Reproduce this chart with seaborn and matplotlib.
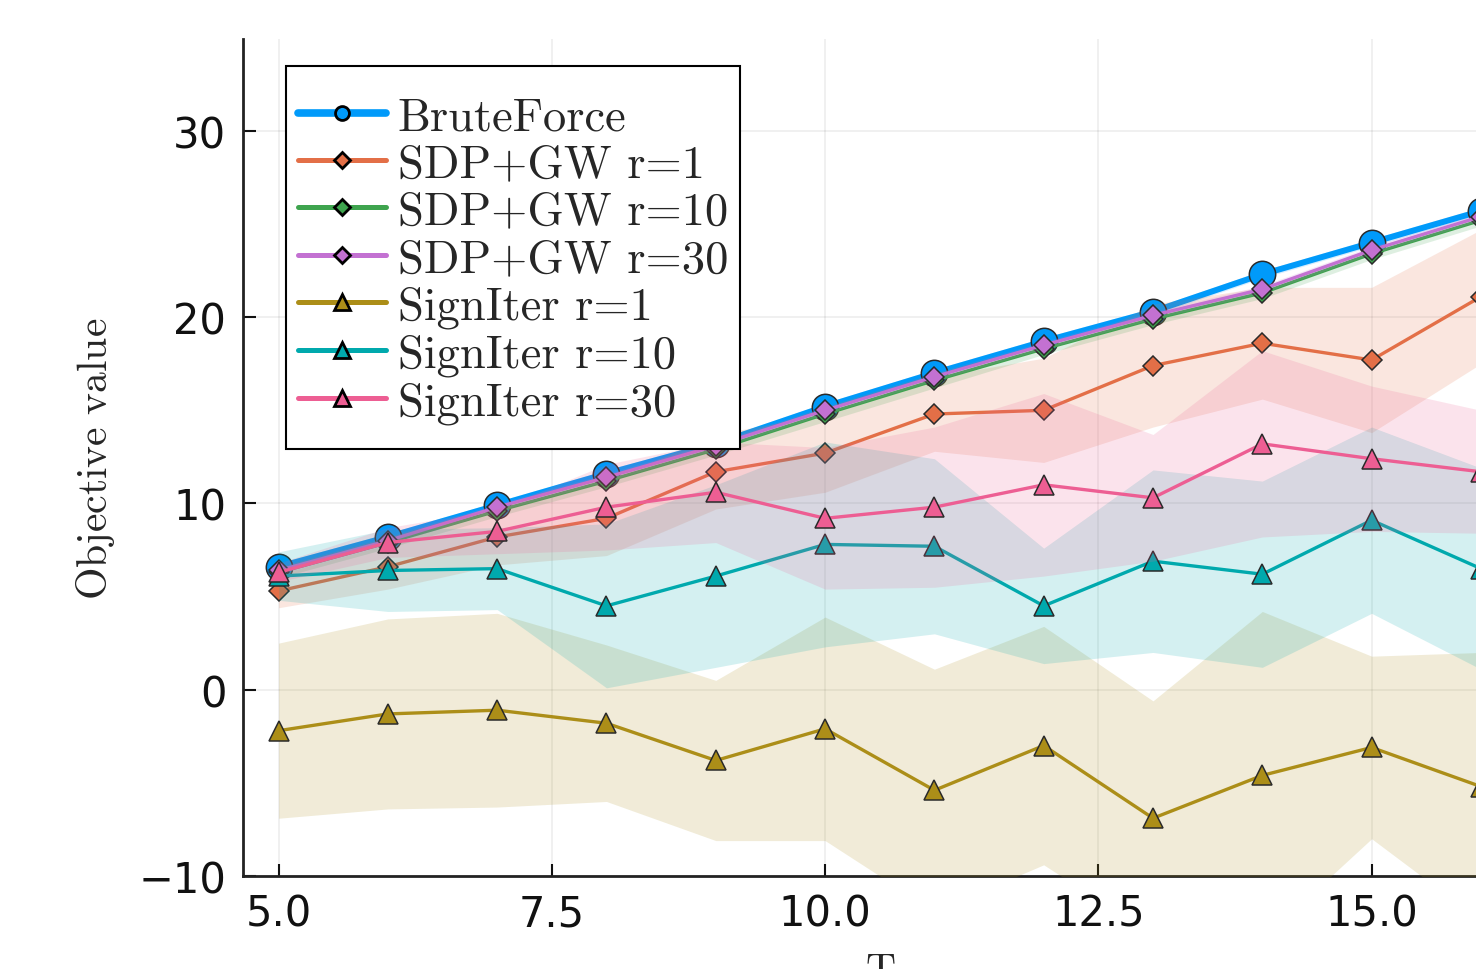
import numpy as np
import seaborn as sns
import matplotlib.pyplot as plt
from matplotlib.lines import Line2D
from matplotlib.patches import Rectangle

# data (mean and ribbon half-width)
T = [5, 6, 7, 8, 9, 10, 11, 12, 13, 14, 15, 16]

brute_force = [6.6, 8.2, 9.9, 11.6, 13.2, 15.2, 17.0, 18.7, 20.3, 22.3, 24.0, 25.7]
brute_force_std = [0.2, 0.2, 0.2, 0.2, 0.2, 0.2, 0.2, 0.2, 0.2, 0.2, 0.2, 0.2]

sdp_r1 = [5.3, 6.6, 8.2, 9.2, 11.7, 12.7, 14.8, 15.0, 17.4, 18.6, 17.7, 21.1]
sdp_r1_std = [0.9, 1.2, 1.5, 2.0, 2.0, 2.1, 2.0, 2.8, 3.3, 3.0, 3.9, 3.6]

sdp_r10 = [6.3, 7.9, 9.6, 11.2, 12.9, 14.8, 16.6, 18.3, 19.9, 21.3, 23.4, 25.2]
sdp_r10_std = [0.3, 0.3, 0.3, 0.3, 0.3, 0.4, 0.4, 0.3, 0.3, 0.3, 0.3, 0.3]

sdp_r30 = [6.4, 8.0, 9.8, 11.4, 13.1, 15.0, 16.8, 18.5, 20.1, 21.5, 23.6, 25.4]
sdp_r30_std = [0.2, 0.2, 0.2, 0.2, 0.2, 0.2, 0.2, 0.2, 0.2, 0.2, 0.2, 0.2]

sign_r1 = [-2.2, -1.3, -1.1, -1.8, -3.8, -2.1, -5.4, -3.0, -6.9, -4.6, -3.1, -5.2]
sign_r1_std = [4.7, 5.1, 5.2, 4.2, 4.3, 6.0, 6.5, 6.4, 6.3, 8.8, 4.9, 7.2]

sign_r10 = [6.1, 6.4, 6.5, 4.5, 6.1, 7.8, 7.7, 4.5, 6.9, 6.2, 9.1, 6.5]
sign_r10_std = [1.3, 2.2, 2.2, 4.4, 4.9, 5.5, 4.7, 3.1, 4.9, 5.0, 5.0, 5.4]

sign_r30 = [6.3, 7.9, 8.5, 9.8, 10.6, 9.2, 9.8, 11.0, 10.3, 13.2, 12.4, 11.7]
sign_r30_std = [0.5, 0.8, 1.2, 2.3, 2.7, 3.8, 4.3, 4.9, 3.4, 5.0, 3.9, 3.3]

labels = ['BruteForce', 'SDP+GW r=1', 'SDP+GW r=10', 'SDP+GW r=30',
          'SignIter r=1', 'SignIter r=10', 'SignIter r=30']
colors = ['#009AFA', '#E36F47', '#3EA44E', '#C371D2', '#AC8E18', '#00A9AD', '#ED5E93']

sns.set_style('ticks')
plt.rcParams['font.family'] = ['DejaVu Sans']
plt.rcParams['mathtext.fontset'] = 'cm'

fig = plt.figure(figsize=(14.76, 9.70), dpi=100)
ax = fig.add_axes([0.1646, 0.0959, 0.8354, 0.863])

series = [
    (brute_force, brute_force_std, 'o', 19, 4.3, 10),
    (sdp_r1, sdp_r1_std, 'D', 10, 2.4, 8),
    (sdp_r10, sdp_r10_std, 'D', 10, 2.4, 8),
    (sdp_r30, sdp_r30_std, 'D', 10, 2.4, 8),
    (sign_r1, sign_r1_std, '^', 15, 2.4, 11),
    (sign_r10, sign_r10_std, '^', 15, 2.4, 11),
    (sign_r30, sign_r30_std, '^', 15, 2.4, 11),
]

handles = []
for i, (mean, std, mk, ms, lw, lms) in enumerate(series):
    c = colors[i]
    lo = np.array(mean) - np.array(std)
    hi = np.array(mean) + np.array(std)
    ax.fill_between(T, lo, hi, color=c, alpha=0.17, linewidth=0, zorder=2 + 2 * i)
    sns.lineplot(x=T, y=mean, ax=ax, color=c, marker=mk, markersize=ms, linewidth=lw,
                 markeredgecolor='#2a2a2a', markeredgewidth=1.1, zorder=3 + 2 * i)
    handles.append(Line2D([], [], color=c, marker=mk, markersize=lms, linewidth=lw + 1.2,
                          markeredgecolor='black', markeredgewidth=2.0, label=labels[i]))

ax.set_xlim(4.674, 15.955)
ax.set_ylim(-10, 34.94)
ax.set_xticks([5.0, 7.5, 10.0, 12.5, 15.0])
ax.set_xticklabels(['5.0', '7.5', '10.0', '12.5', '15.0'])
ax.set_yticks([-10, 0, 10, 20, 30])
ax.set_yticklabels(['\u221210', '0', '10', '20', '30'])
ax.tick_params(direction='in', length=9, width=1.5, labelsize=30, pad=12, colors='#111111')

ax.grid(True, color='black', alpha=0.07, linewidth=1.2)
for s in ['top', 'right']:
    ax.spines[s].set_visible(False)
for s in ['left', 'bottom']:
    ax.spines[s].set_color('#222222')
    ax.spines[s].set_linewidth(2)

ax.set_ylabel(r'$\mathrm{Objective\ value}$', fontsize=30)
ax.yaxis.set_label_coords(-0.1022, 0.5)
ax.set_xlabel(r'$\mathrm{T}$', fontsize=30)
ax.xaxis.set_label_coords(0.5166, -0.087)

# legend box drawn as a plain rectangle so the inner padding can differ per side
box = Rectangle((0.0349, 0.5102), 0.3682, 0.4576, transform=ax.transAxes,
                facecolor='white', edgecolor='black', linewidth=1.5, zorder=29)
ax.add_patch(box)
leg = ax.legend(handles=handles, loc='upper left', bbox_to_anchor=(0.0446, 0.931),
                borderaxespad=0, borderpad=0, prop={'family': 'cmr10', 'size': 33.5},
                frameon=False, handlelength=1.9, handletextpad=0.24, labelspacing=0.12)
leg.set_zorder(30)

fig.savefig('out.png', dpi=100)
